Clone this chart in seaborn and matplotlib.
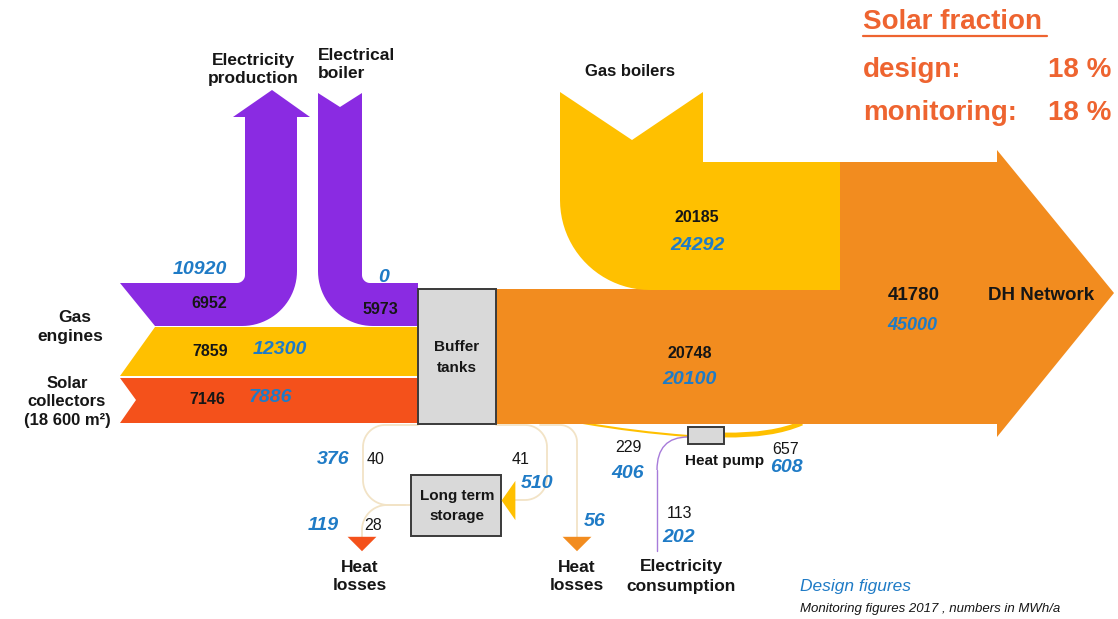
#!/usr/bin/env python3
# plot.py - energy flow diagram (Sankey style) of a solar district heating plant

import numpy as np
import pandas as pd
import matplotlib

matplotlib.use("Agg")
import matplotlib.pyplot as plt
from matplotlib.patches import Polygon, Rectangle, PathPatch
from matplotlib.path import Path
import seaborn as sns

sns.set_theme(style="white")
plt.rcParams["font.family"] = ["Liberation Sans", "DejaVu Sans"]

# flows: monitoring 2017 (black) and design (blue), MWh/a
flow_names = ["Electricity production", "Electrical boiler", "Gas engines",
              "Solar collectors", "Gas boilers", "DH Network", "Buffer to network",
              "Storage charge", "Storage discharge", "Storage losses",
              "Buffer losses", "Heat pump source", "Heat pump output",
              "Heat pump electricity"]
monitoring_values = [6952, 5973, 7859, 7146, 20185, 41780, 20748,
                     40, 41, 28, None, 229, 657, 113]
design_values = [10920, 0, 12300, 7886, 24292, 45000, 20100,
                 376, 510, 119, 56, 406, 608, 202]

solar_fraction_labels = ["design:", "monitoring:"]
solar_fraction_values = [18, 18]

PURPLE = "#8A2BE2"
YELLOW = "#FFC000"
RED = "#F4511B"
ORANGE = "#F28C1F"
BLUE = "#1F7BC6"
TITLE_RED = "#EE6430"
DARK = "#161616"
CREAM = "#F2E3C6"


def arc(cx, cy, r, a0, a1, n=24):
    a = np.radians(np.linspace(a0, a1, n))
    return list(zip(cx + r * np.cos(a), cy + r * np.sin(a)))


def shape(ax, pts, color, z=2):
    ax.add_patch(Polygon(pts, closed=True, facecolor=color, edgecolor="none", zorder=z))


def line(ax, pts, color, lw=1.3, z=1):
    xs, ys = zip(*pts)
    ax.plot(xs, ys, color=color, lw=lw, solid_capstyle="round", zorder=z)


def curve(ax, p0, c, p1, color, lw):
    path = Path([p0, c, p1], [Path.MOVETO, Path.CURVE3, Path.CURVE3])
    ax.add_patch(PathPatch(path, facecolor="none", edgecolor=color, lw=lw, zorder=1))


def box(ax, x0, y0, x1, y1):
    ax.add_patch(Rectangle((x0, y0), x1 - x0, y1 - y0, facecolor="#D9D9D9",
                           edgecolor="#3A3A3A", lw=1.4, zorder=4))


fig = plt.figure(figsize=(11.18, 6.19), dpi=100)
ax = fig.add_axes([0, 0, 1, 1])

# ---- big flows ----
shape(ax, [(496, 289), (838, 289), (838, 162), (997, 162), (997, 150), (1114, 293),
           (997, 437), (997, 424), (496, 424)], ORANGE)
shape(ax, [(560, 92), (632, 140), (703, 92), (703, 162), (840, 162), (840, 290)]
      + arc(650, 200, 90, 90, 180), YELLOW, z=3)
shape(ax, [(120, 283)] + arc(237, 275, 8, 90, 0)
      + [(245, 117), (233, 117), (272, 90), (310, 117), (297, 117)]
      + arc(242, 271, 55, 0, 90) + [(155, 326)], PURPLE)
shape(ax, [(318, 93), (340, 107), (362, 93)] + arc(370, 275, 8, 180, 90)
      + [(418, 283), (418, 326)] + arc(373, 271, 55, 90, 180), PURPLE)
shape(ax, [(155, 327), (418, 327), (418, 376), (120, 376)], YELLOW)
shape(ax, [(120, 378), (418, 378), (418, 423), (120, 423), (136, 400)], RED)

# ---- small flows ----
line(ax, [(418, 425), (385, 425)] + arc(385, 447, 22, 270, 180) + [(363, 480)]
     + arc(388, 480, 25, 180, 90) + [(411, 505)], CREAM)
line(ax, [(405, 505), (387, 505)] + arc(387, 530, 25, 270, 180) + [(362, 537)], CREAM)
line(ax, [(496, 425), (525, 425)] + arc(525, 447, 22, 270, 360) + [(547, 478)]
     + arc(525, 478, 22, 0, 90) + [(513, 500)], CREAM)
line(ax, [(540, 425), (560, 425)] + arc(560, 442, 17, 270, 360) + [(577, 537)], CREAM)
curve(ax, (583, 423), (635, 432), (688, 436), YELLOW, 1.5)
curve(ax, (724, 435), (772, 436), (802, 423), YELLOW, 3.5)
line(ax, [(657, 551), (657, 470)], "#A77BDA", lw=1.0)
curve(ax, (657, 470), (657, 437), (688, 437), "#A77BDA", 1.0)

# arrow tips drawn as seaborn scatter markers
down_tri = Path([(-1, 0.5), (1, 0.5), (0, -0.5), (-1, 0.5)], closed=True)
left_tri = Path([(-0.35, 0), (0.35, -1), (0.35, 1), (-0.35, 0)], closed=True)
tips = pd.DataFrame({"x": [362, 577], "y": [544, 544], "kind": ["storage", "buffer"]})
sns.scatterplot(data=tips, x="x", y="y", hue="kind", palette={"storage": RED, "buffer": ORANGE},
                marker=down_tri, s=430, linewidth=0, legend=False, ax=ax, zorder=5)
sns.scatterplot(x=[508], y=[500], color=YELLOW, marker=left_tri, s=800, linewidth=0,
                legend=False, ax=ax, zorder=5)

# ---- boxes ----
box(ax, 418, 289, 496, 424)
box(ax, 411, 475, 501, 536)
box(ax, 688, 427, 724, 444)


def txt(x, y, s, size=11.5, color=DARK, weight="bold", style="normal", ha="center"):
    ax.text(x, y, s, fontsize=size, color=color, fontweight=weight, fontstyle=style,
            ha=ha, va="center", zorder=6)


def num(x, y, v, size=11.5, weight="bold"):
    txt(x, y, str(v), size=size, weight=weight)


def design(x, y, v, size=14):
    txt(x, y, str(v), size=size, color=BLUE, style="italic")


# node labels
for (x, y), s in zip([(253, 60), (253, 78)], ["Electricity", "production"]):
    txt(x, y, s, size=12.5)
txt(318, 55, "Electrical", size=12.5, ha="left")
txt(318, 74, "boiler", size=12.5, ha="left")
txt(630, 72, "Gas boilers", size=12)
txt(75, 318, "Gas", size=12.5)
txt(70, 337, "engines", size=12.5)
txt(67, 383, "Solar", size=12)
txt(67, 402, "collectors", size=12)
txt(67, 421, "(18 600 m²)", size=12)
txt(457, 347, "Buffer", size=11)
txt(457, 368, "tanks", size=11)
txt(457, 496, "Long term", size=11)
txt(457, 516, "storage", size=11)
txt(1041, 296, "DH Network", size=13.5)
txt(725, 461, "Heat pump", size=11)
for xc in [360, 577]:
    txt(xc, 567, "Heat", size=12.5)
    txt(xc, 586, "losses", size=12.5)
txt(681, 567, "Electricity", size=12.5)
txt(681, 586, "consumption", size=12.5)

# values: positions for monitoring and design labels, in flow order
mon_pos = [(209, 303), (380, 309), (210, 352), (207, 400), (697, 218), (914, 296),
           (690, 354), (376, 460), (521, 460), (373, 526), None, (628, 447),
           (786, 449), (679, 514)]
des_pos = [(200, 269), (384, 277), (280, 350), (270, 397), (697, 245), (912, 325),
           (690, 380), (333, 460), (537, 483), (323, 525), (595, 521), (628, 473),
           (786, 468), (679, 537)]
big = {"DH Network"}
thin = {"Storage charge", "Storage discharge", "Storage losses", "Heat pump source",
        "Heat pump output", "Heat pump electricity"}
for name, m, d, mp, dp in zip(flow_names, monitoring_values, design_values, mon_pos, des_pos):
    if m is not None:
        size = 13.5 if name in big else 11.5
        num(mp[0], mp[1], m, size=size, weight="normal" if name in thin else "bold")
    design(dp[0], dp[1], d, size=13 if name in big else 14)

# solar fraction box
txt(863, 22, "Solar fraction", size=20, color=TITLE_RED, ha="left")
ax.plot([863, 1047], [36, 36], color=TITLE_RED, lw=1.6, zorder=6)
for (lab, val), y in zip(zip(solar_fraction_labels, solar_fraction_values), [70, 113]):
    txt(863, y, lab, size=20, color=TITLE_RED, ha="left")
    txt(1111, y, f"{val} %", size=20, color=TITLE_RED, ha="right")

txt(800, 587, "Design figures", size=12.5, color=BLUE, weight="normal", style="italic", ha="left")
txt(800, 609, "Monitoring figures 2017 , numbers in MWh/a", size=9.5, color=DARK,
    weight="normal", style="italic", ha="left")

ax.set_xlim(0, 1118)
ax.set_ylim(619, 0)
ax.axis("off")
fig.savefig("out.png", dpi=100, facecolor="white")
plt.close(fig)
